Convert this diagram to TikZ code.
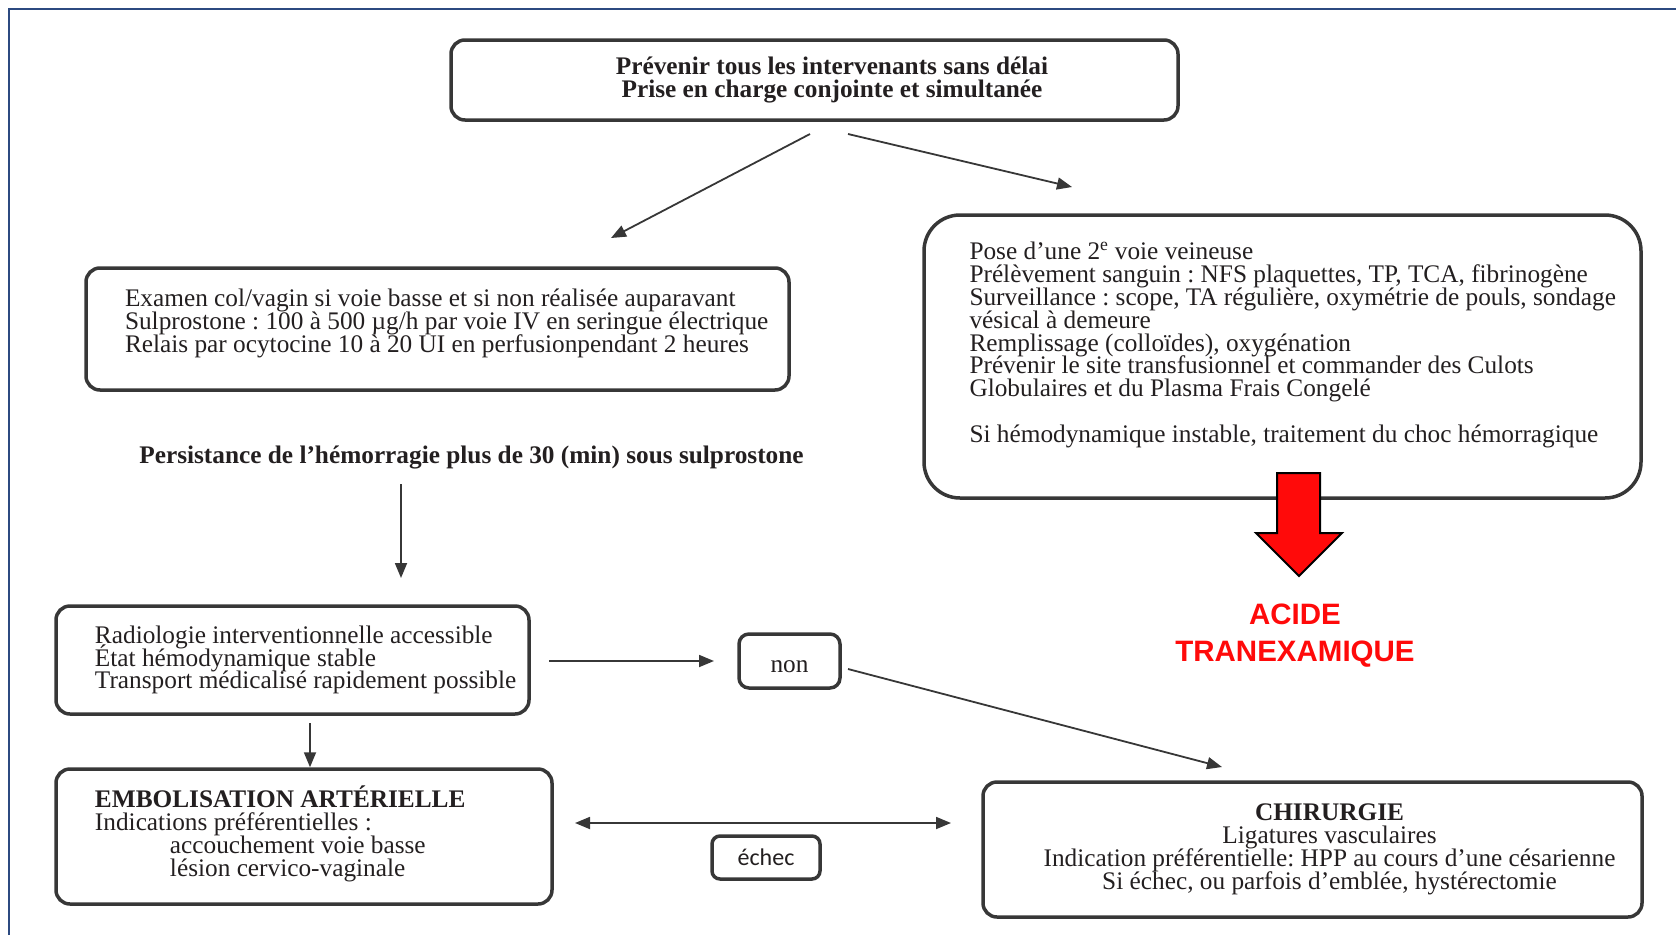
\documentclass[tikz,border=0pt]{standalone}
\usepackage{fontspec}
\setmainfont{Liberation Serif}
\newfontfamily\tranexfont{Liberation Sans}
\newfontfamily\echecfont{Carlito}
\usetikzlibrary{arrows.meta}
\definecolor{framebluecol}{RGB}{44,74,128}
\definecolor{boxgray}{RGB}{55,55,55}
\definecolor{txtgray}{RGB}{35,31,32}
\definecolor{acidered}{RGB}{255,10,10}
\newcommand{\bodyfont}{\fontsize{25.3}{22.8}\selectfont\lineskiplimit=-\maxdimen}
\frenchspacing

\tikzset{
  box/.style={draw=boxgray, line width=3.5pt, rounded corners=14pt, inner sep=0pt,
    text=txtgray, font=\bodyfont},
  textpad/.style={align=left, execute at begin node={\lineskiplimit=-\maxdimen\spaceskip=0pt\xspaceskip=0pt\frenchspacing\leftskip=#1}},
  midpad/.style={align=center, execute at begin node={\lineskiplimit=-\maxdimen\spaceskip=0pt\xspaceskip=0pt\frenchspacing\centering\leftskip=#1 plus 1fil}},
  plaintext/.style={inner sep=0pt, text=txtgray, font=\bodyfont},
  arr/.style={draw=boxgray, line width=1.8pt, -{Triangle[length=15pt,width=12pt]}},
  dblarr/.style={arr, {Triangle[length=15pt,width=12pt]}-{Triangle[length=15pt,width=12pt]}},
  redarrow/.style={fill=acidered, draw=black, line width=2pt, line join=miter},
}

\begin{document}
\begin{tikzpicture}[x=1pt,y=-1pt]
		%%%%% START %%%%%
		\useasboundingbox (0,0) rectangle (1676,935);
		\draw[framebluecol, line width=2.5pt] (9,935) -- (9,9) -- (1676,9);
		
		\node[box, font=\bodyfont\bfseries, text width=727pt, minimum height=80pt, midpad=35pt] (prevenir) at (814.5,80)
			{Prévenir tous les intervenants sans délai\\Prise en charge conjointe et simultanée};
		
		\node[box, text width=703pt, minimum height=122pt, textpad=39pt] (examen) at (437.5,329)
			{Examen col/vagin si voie basse et si non réalisée auparavant\\
			 Sulprostone : 100 à 500 µg/h par voie IV en seringue électrique\\
			 Relais par ocytocine 10 à 20 UI en perfusionpendant 2 heures\\[-6pt]\mbox{}};
		
		\node[box, rounded corners=36pt, text width=717pt, minimum height=283pt, textpad=45.5pt] (mesures) at (1282.5,356.5)
			{Pose d’une 2\textsuperscript{e} voie veineuse\\
			 Prélèvement sanguin : NFS plaquettes, TP, TCA, fibrinogène\\
			 Surveillance : scope, TA régulière, oxymétrie de pouls, sondage\\
			 vésical à demeure\\
			 Remplissage (colloïdes), oxygénation\\
			 Prévenir le site transfusionnel et commander des Culots\\
			 Globulaires et du Plasma Frais Congelé\\[22.8pt]
			 Si hémodynamique instable, traitement du choc hémorragique\\[5.7pt]\mbox{}};
		
		\draw[redarrow] (1277,473) -- (1320,473) -- (1320,533) -- (1342,533) -- (1299,576) -- (1256,533) -- (1277,533) -- cycle;
		\node[align=center, inner sep=0pt, text=acidered, font=\tranexfont\bfseries\fontsize{29.5}{37}\selectfont] (acide) at (1295,636)
			{ACIDE\\TRANEXAMIQUE};
		
		\node[plaintext, font=\bodyfont\bfseries] (persist) at (471.5,457)
			{Persistance de l’hémorragie plus de 30 (min) sous sulprostone};
		
		\node[box, text width=473pt, minimum height=108pt, textpad=39pt] (radio) at (292.5,660)
			{Radiologie interventionnelle accessible\\
			 État hémodynamique stable\\
			 Transport médicalisé rapidement possible};
		
		\node[box, rounded corners=10pt, text height=23.6pt, text depth=0pt, minimum width=101pt, minimum height=54pt] (non) at (789.5,661) {non};
		
		\node[box, text width=496pt, minimum height=135pt, textpad=39pt] (embol) at (304,836.5)
			{{\bfseries EMBOLISATION ARTÉRIELLE}\\
			 Indications préférentielles :\\
			 \hspace*{75pt}accouchement voie basse\\
			 \hspace*{75pt}lésion cervico-vaginale\\[-12pt]\mbox{}};
		
		\node[box, rounded corners=8pt, font=\echecfont\fontsize{24}{24}\selectfont, minimum width=108pt, minimum height=43pt] (echec) at (766,857.5) {échec};
		
		\node[box, text width=659pt, minimum height=135pt, midpad=34pt] (chir) at (1312.5,849.5)
			{{\bfseries CHIRURGIE}\\
			 Ligatures vasculaires\\
			 Indication préférentielle: HPP au cours d’une césarienne\\
			 Si échec, ou parfois d’emblée, hystérectomie};
		
		%%%%% ARROWS %%%%%
		\coordinate (p1) at (810,134);  \coordinate (p2) at (611,238);
		\coordinate (p3) at (848,134);  \coordinate (p4) at (1072,187);
		\coordinate (s1) at (401,484);  \coordinate (s2) at (401,578);
		\coordinate (r1) at (310,723);
		\coordinate (n1) at (549,661);  \coordinate (n2) at (714,661);
		\coordinate (n3) at (848,669);  \coordinate (n4) at (1222,767);
		\coordinate (e1) at (575,823);  \coordinate (e2) at (951,823);
		
		\draw[arr] (p1) -- (p2);
		\draw[arr] (p3) -- (p4);
		\draw[arr] (s1) -- (s2);
		\draw[arr] (r1) -- (r1 |- embol.north);
		\draw[arr] (n1) -- (n2);
		\draw[arr] (n3) -- (n4);
		\draw[dblarr] (e1) -- (e2);
		%%%%% END %%%%%
\end{tikzpicture}
\end{document}
